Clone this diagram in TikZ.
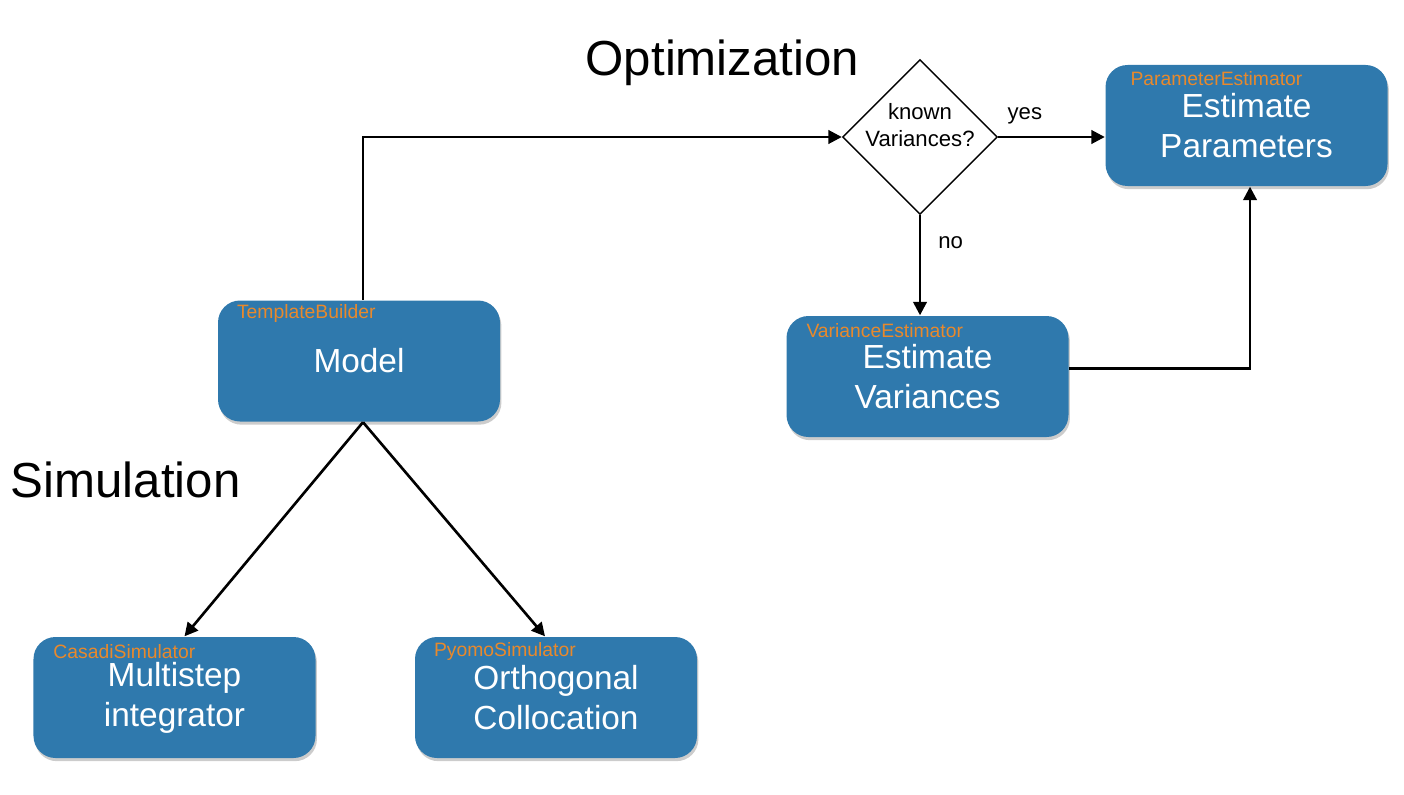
\documentclass[tikz,border=0pt]{standalone}
\usepackage{fontspec}
\setmainfont{Liberation Sans}
\usetikzlibrary{arrows.meta,shapes.geometric,shadows}
\definecolor{boxblue}{RGB}{47,121,173}
\definecolor{tagorange}{RGB}{232,137,44}
\tikzset{
  module/.style={rectangle, rounded corners=0.22cm, fill=boxblue, text=white,
    minimum width=2.82cm, minimum height=1.21cm, align=center,
    font=\fontsize{9.5}{11.4}\selectfont,
    drop shadow={shadow xshift=0.4pt, shadow yshift=-0.9pt, opacity=0.4}},
  tag/.style={anchor=west, inner sep=0pt, text=tagorange, font=\fontsize{5.5}{6.6}\selectfont},
  decision/.style={diamond, draw, thin, fill=white, minimum width=1.55cm, minimum height=1.55cm, inner sep=0pt},
  flow/.style={line width=0.75pt, -{Triangle[length=3.8pt,width=3.8pt]}},
  title/.style={anchor=base west, inner sep=0pt, font=\fontsize{14}{17}\selectfont},
  small/.style={font=\fontsize{6.3}{7.6}\selectfont}
}
\begin{document}
\begin{tikzpicture}
\useasboundingbox (0,0) rectangle (14.04,-7.94);
% headings
\node[title] (opt) at (5.85,-0.76) {Optimization};
\node[title] (sim) at (0.10,-4.97) {Simulation};
% boxes
\node[module] (model) at (3.59,-3.61) {Model};
\node[tag] (model-tag) at ([shift={(0.19,-0.14)}]model.north west) {TemplateBuilder};
\node[module] (casadi) at (1.745,-6.975) {Multistep\\integrator};
\node[tag] (casadi-tag) at ([shift={(0.2,-0.15)}]casadi.north west) {CasadiSimulator};
\node[module] (pyomo) at (5.56,-6.975) {Orthogonal\\Collocation};
\node[tag] (pyomo-tag) at ([shift={(0.19,-0.15)}]pyomo.north west) {PyomoSimulator};
\node[module] (varest) at (9.275,-3.765) {Estimate\\Variances};
\node[tag] (varest-tag) at ([shift={(0.2,-0.15)}]varest.north west) {VarianceEstimator};
\node[module] (param) at (12.465,-1.255) {Estimate\\Parameters};
\node[tag] (param-tag) at ([shift={(0.25,-0.14)}]param.north west) {ParameterEstimator};
% decision
\node[decision] (known) at (9.20,-1.37) {};
\node[small, align=center] (known-text) at ([yshift=0.12cm]known.center) {known\\Variances?};
% arrows
\draw[flow] ([xshift=0.04cm]model.north) |- (known.west);
\draw[flow] (known.east) -- node[small, pos=0.25, anchor=base, yshift=0.18cm] {yes} (known.east -| param.west);
\draw[flow] (known.south) -- node[small, pos=0.33, anchor=base west, inner sep=0pt, xshift=0.17cm] {no} (varest.north -| known.south);
\draw[flow] ([yshift=0.08cm]varest.east) -| ([xshift=0.035cm]param.south);
\draw[flow] ([xshift=0.04cm]model.south) -- ([xshift=0.1cm]casadi.north);
\draw[flow] ([xshift=0.04cm]model.south) -- ([xshift=-0.11cm]pyomo.north);
\end{tikzpicture}
\end{document}
